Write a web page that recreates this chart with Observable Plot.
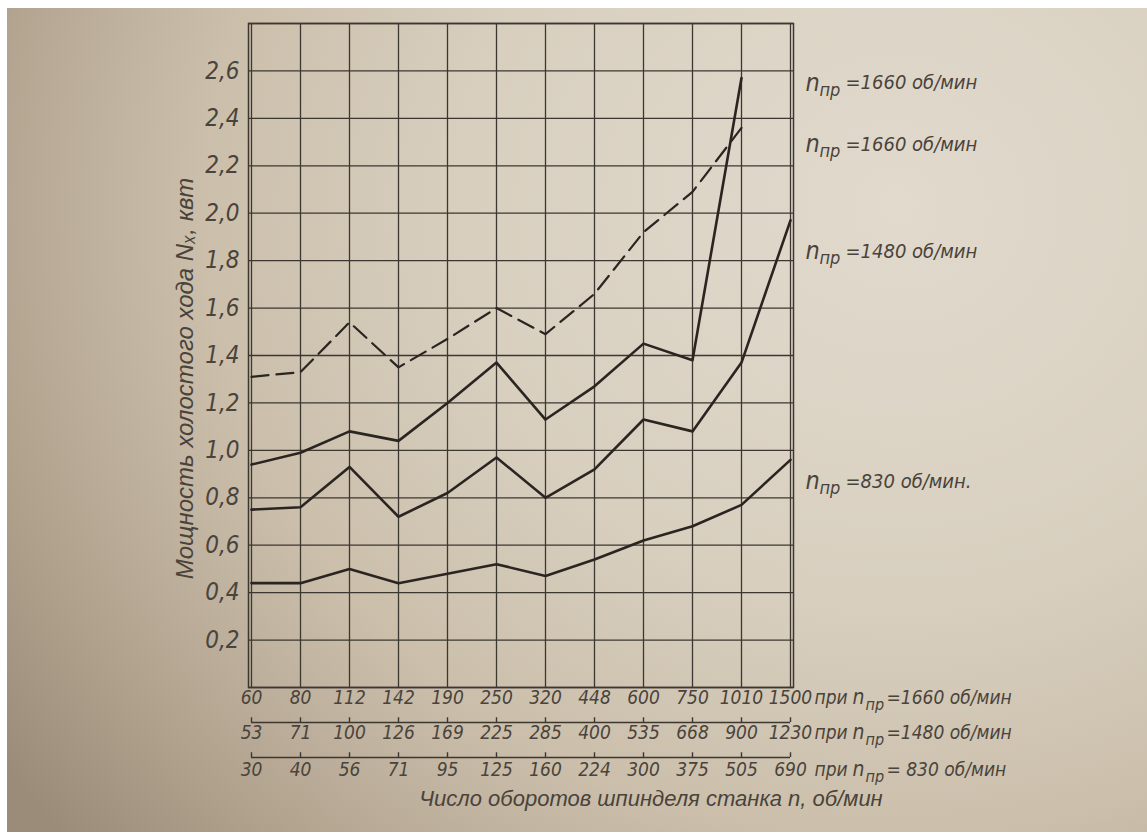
<!DOCTYPE html>
<html><head><meta charset="utf-8">
<script src="https://cdn.jsdelivr.net/npm/d3@7"></script>
<script src="https://cdn.jsdelivr.net/npm/@observablehq/plot@0.6"></script>
<style>
html,body{margin:0;padding:0;background:#fff;width:1147px;height:839px;overflow:hidden}
#chart{position:absolute;left:7px;top:8px;width:1140px;height:824px;
background:
 radial-gradient(ellipse 95% 120% at 78% 24%, #e1dacd 0%, #d8cfbf 40%, #cbbfab 64%, #b0a18d 86%, #9b8c7a 100%);}
</style></head><body><div id="chart"></div>
<script>
// Spindle speeds (tick labels) for the three n_пр values
const rpm1660 = ["60","80","112","142","190","250","320","448","600","750","1010","1500"];
const rpm1480 = ["53","71","100","126","169","225","285","400","535","668","900","1230"];
const rpm830  = ["30","40","56","71","95","125","160","224","300","375","505","690"];

// Idle power N_x, kW
const power1660Solid  = [0.94,0.99,1.08,1.04,1.20,1.37,1.13,1.27,1.45,1.38,2.57];
const power1660Dashed = [1.31,1.33,1.54,1.35,1.47,1.60,1.49,1.66,1.92,2.09,2.36];
const power1480       = [0.75,0.76,0.93,0.72,0.82,0.97,0.80,0.92,1.13,1.08,1.37,1.97];
const power830        = [0.44,0.44,0.50,0.44,0.48,0.52,0.47,0.54,0.62,0.68,0.77,0.96];

const yGrid  = [0,0.2,0.4,0.6,0.8,1.0,1.2,1.4,1.6,1.8,2.0,2.2,2.4,2.6,2.8];
const yTicks = [0.2,0.4,0.6,0.8,1.0,1.2,1.4,1.6,1.8,2.0,2.2,2.4,2.6];

// Curve labels on the right
const curveLabelText = ["=1660 об/мин","=1660 об/мин","=1480 об/мин","=830 об/мин."];
const curveLabelY    = [2.55, 2.29, 1.84, 0.87];

// Bottom rows
const rowSuffix = ["=1660 об/мин","=1480 об/мин","= 830 об/мин"];
const yTitle = "Мощность холостого хода Nₓ, квт";
const xTitle = "Число оборотов шпинделя станка n, об/мин";

const ink = "#2b2521";
const grid = "#3d3731";
const txt = "#4a433b";
const last = rpm1660[rpm1660.length-1];
const rowDy = [16, 51, 88];
const rows = [rpm1660, rpm1480, rpm830];

const marks = [
  Plot.gridX(rpm1660, {stroke: grid, strokeOpacity: 1, strokeWidth: 1.3}),
  Plot.gridY(yGrid, {stroke: grid, strokeOpacity: 1, strokeWidth: 1.3}),
  Plot.frame({stroke: grid, strokeWidth: 1.5}),
  Plot.line(power830, {x: (d,i)=>rpm1660[i], y: d=>d, stroke: ink, strokeWidth: 2.6}),
  Plot.line(power1480, {x: (d,i)=>rpm1660[i], y: d=>d, stroke: ink, strokeWidth: 2.6}),
  Plot.line(power1660Solid, {x: (d,i)=>rpm1660[i], y: d=>d, stroke: ink, strokeWidth: 2.6}),
  Plot.line(power1660Dashed, {x: (d,i)=>rpm1660[i], y: d=>d, stroke: ink, strokeWidth: 2.2, strokeDasharray: "17,8"}),
  // y tick labels
  Plot.text(yTicks, {y: d=>d, text: d=>d.toFixed(1).replace(".", ","), frameAnchor: "left", dx: -9, textAnchor: "end", fontSize: 24, fill: txt}),
  // y title
  Plot.text([yTitle], {frameAnchor: "left", dx: -63, dy: 23, rotate: -90, textAnchor: "middle", fontSize: 24, fill: txt, fontFamily: "'Liberation Sans', sans-serif", letterSpacing: 2.4}),
  // curve labels
  Plot.text(curveLabelY, {x: ()=>last, y: d=>d, text: ()=>"n", dx: 15, textAnchor: "start", fontSize: 25, fill: txt}),
  Plot.text(curveLabelY, {x: ()=>last, y: d=>d, text: ()=>"пр", dx: 29, dy: 7, textAnchor: "start", fontSize: 18, fill: txt}),
  Plot.text(curveLabelY, {x: ()=>last, y: d=>d, text: (d,i)=>curveLabelText[i], dx: 55, textAnchor: "start", fontSize: 20, letterSpacing: -0.4, fill: txt}),
];

rows.forEach((row, r) => {
  marks.push(Plot.text(row, {x: (d,i)=>rpm1660[i], text: d=>d, frameAnchor: "bottom", dy: rowDy[r], fontSize: 19, letterSpacing: -0.8, fill: txt}));
  marks.push(Plot.text(["при"], {x: ()=>last, text: d=>d, frameAnchor: "bottom", dy: rowDy[r], dx: 24, textAnchor: "start", fontSize: 19, letterSpacing: -0.8, fill: txt}));
  marks.push(Plot.text(["n"], {x: ()=>last, text: d=>d, frameAnchor: "bottom", dy: rowDy[r], dx: 62, textAnchor: "start", fontSize: 21, fill: txt}));
  marks.push(Plot.text(["пр"], {x: ()=>last, text: d=>d, frameAnchor: "bottom", dy: rowDy[r] + 6, dx: 75, textAnchor: "start", fontSize: 16, letterSpacing: -0.5, fill: txt}));
  marks.push(Plot.text([rowSuffix[r]], {x: ()=>last, text: d=>d, frameAnchor: "bottom", dy: rowDy[r], dx: 96, textAnchor: "start", fontSize: 19, letterSpacing: -0.5, fill: txt}));
});
// separator lines with small ticks
[35, 70].forEach(dy => {
  marks.push(Plot.ruleY([0], {x1: ()=>rpm1660[0], x2: ()=>last, dy, stroke: grid, strokeWidth: 1.4}));
  marks.push(Plot.ruleX(rpm1660, {x: d=>d, y1: 0, y2: 0.02, dy, stroke: grid, strokeWidth: 1.4}));
});
marks.push(Plot.text([xTitle], {frameAnchor: "bottom", dx: 130, dy: 118, fontSize: 22, fill: txt, fontFamily: "'Liberation Sans', sans-serif", letterSpacing: 1}));

const chart = Plot.plot({
  width: 1140, height: 824,
  marginLeft: 241, marginRight: 354, marginTop: 15, marginBottom: 145,
  x: {type: "point", domain: rpm1660, padding: 0, axis: null},
  y: {domain: [0, 2.8], axis: null},
  style: {background: "transparent", fontFamily: "'DejaVu Sans Condensed', 'DejaVu Sans', sans-serif", fontStyle: "italic", overflow: "visible"},
  marks
});
document.getElementById("chart").appendChild(chart);
</script>
</body></html>
